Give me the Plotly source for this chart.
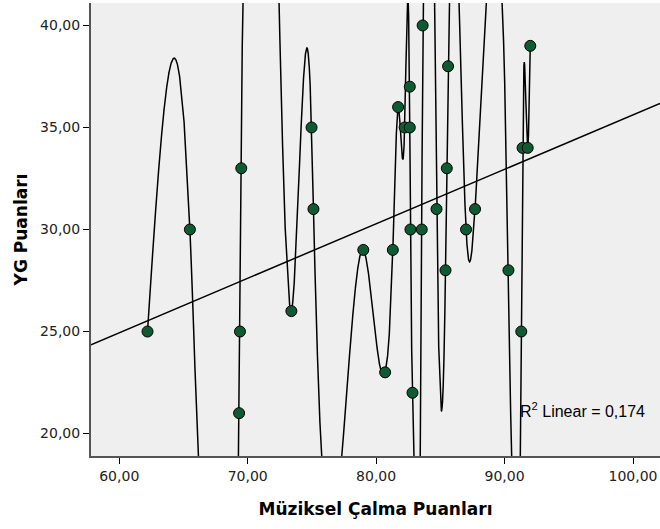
import numpy as np
import plotly.graph_objects as go

# ---- data ----
muziksel = [62.2, 65.5, 69.33, 69.4, 69.5, 73.4, 74.97, 75.12, 79.0, 80.7,
            81.3, 81.71, 82.22, 82.62, 82.62, 82.67, 82.83, 83.55, 83.62, 84.7,
            85.4, 85.5, 85.6, 87.0, 87.7, 90.3, 91.3, 91.4, 91.8, 92.0]
yg = [25, 30, 21, 25, 33, 26, 35, 31, 29, 23,
      29, 36, 35, 35, 37, 30, 22, 30, 40, 31,
      28, 33, 38, 30, 31, 28, 25, 34, 34, 39]

# linear fit line as shown in the chart
fit_intercept = 8.92
fit_slope = 0.267

x_tickvals = [60, 70, 80, 90, 100]
x_ticktext = ["60,00", "70,00", "80,00", "90,00", "100,00"]
y_tickvals = [20, 25, 30, 35, 40]
y_ticktext = ["20,00", "25,00", "30,00", "35,00", "40,00"]
r2_label = "R<sup>2</sup> Linear = 0,174"
x_title = "Müziksel Çalma Puanları"
y_title = "YG Puanları"

x = np.array(muziksel, dtype=float)
y = np.array(yg, dtype=float)

x_range = [57.8, 102.1]
y_range = [18.9, 41.1]
fit_x = np.array(x_range)
fit_y = fit_slope * fit_x + fit_intercept

# ---- natural cubic spline interpolation (tied x: first case kept) ----
first = {}
for xv, yv in zip(muziksel, yg):
    if xv not in first:
        first[xv] = yv
ux = np.array(sorted(first))
uy = np.array([first[v] for v in ux], dtype=float)
n = len(ux)
h = np.diff(ux)
A = np.zeros((n, n))
b = np.zeros(n)
A[0, 0] = 1
A[-1, -1] = 1
for i in range(1, n - 1):
    A[i, i - 1] = h[i - 1]
    A[i, i] = 2 * (h[i - 1] + h[i])
    A[i, i + 1] = h[i]
    b[i] = 6 * ((uy[i + 1] - uy[i]) / h[i] - (uy[i] - uy[i - 1]) / h[i - 1])
M = np.linalg.solve(A, b)

xs = np.union1d(np.linspace(ux[0], ux[-1], 30000), ux)
idx = np.clip(np.searchsorted(ux, xs) - 1, 0, n - 2)
x0, x1 = ux[idx], ux[idx + 1]
hh = x1 - x0
t1 = x1 - xs
t0 = xs - x0
ys = (M[idx] * t1 ** 3 / (6 * hh) + M[idx + 1] * t0 ** 3 / (6 * hh)
      + (uy[idx] / hh - M[idx] * hh / 6) * t1
      + (uy[idx + 1] / hh - M[idx + 1] * hh / 6) * t0)
ys = np.clip(ys, -50, 120)

fig = go.Figure()
fig.add_trace(go.Scatter(x=fit_x, y=fit_y, mode="lines",
                         line=dict(color="black", width=1.5),
                         hoverinfo="skip", showlegend=False))
fig.add_trace(go.Scatter(x=xs, y=ys, mode="lines",
                         line=dict(color="black", width=1.5),
                         hoverinfo="skip", showlegend=False))
fig.add_trace(go.Scatter(x=x, y=y, mode="markers",
                         marker=dict(size=11, color="#0E5A32",
                                     line=dict(color="black", width=1)),
                         showlegend=False))

fig.add_annotation(x=0.977, y=0.1015, xref="paper", yref="paper",
                   text=r2_label, showarrow=False, xanchor="right",
                   yanchor="middle",
                   font=dict(family="Liberation Sans, Arial", size=16, color="black"))

fig.update_layout(
    width=660, height=529,
    margin=dict(l=91, r=0, t=3, b=73),
    paper_bgcolor="white",
    plot_bgcolor="#EFEFEF",
    font=dict(family="DejaVu Sans", size=14, color="#222"),
)
fig.update_xaxes(range=x_range, tickvals=x_tickvals, ticktext=x_ticktext,
                 showgrid=False, zeroline=False, showline=True,
                 linecolor="#555", linewidth=2, ticks="outside", ticklen=6,
                 tickcolor="black", tickfont=dict(size=14, color="#222"),
                 title=dict(text=x_title, standoff=20,
                            font=dict(family="DejaVu Sans", size=17, weight="bold", color="black")))
fig.update_yaxes(range=y_range, tickvals=y_tickvals, ticktext=y_ticktext,
                 showgrid=False, zeroline=False, showline=True,
                 linecolor="#555", linewidth=2, ticks="outside", ticklen=6,
                 tickcolor="black", tickfont=dict(size=14, color="#222"),
                 title=dict(text=y_title, standoff=8,
                            font=dict(family="DejaVu Sans", size=17, weight="bold", color="black")))

fig.write_html("out.html")
